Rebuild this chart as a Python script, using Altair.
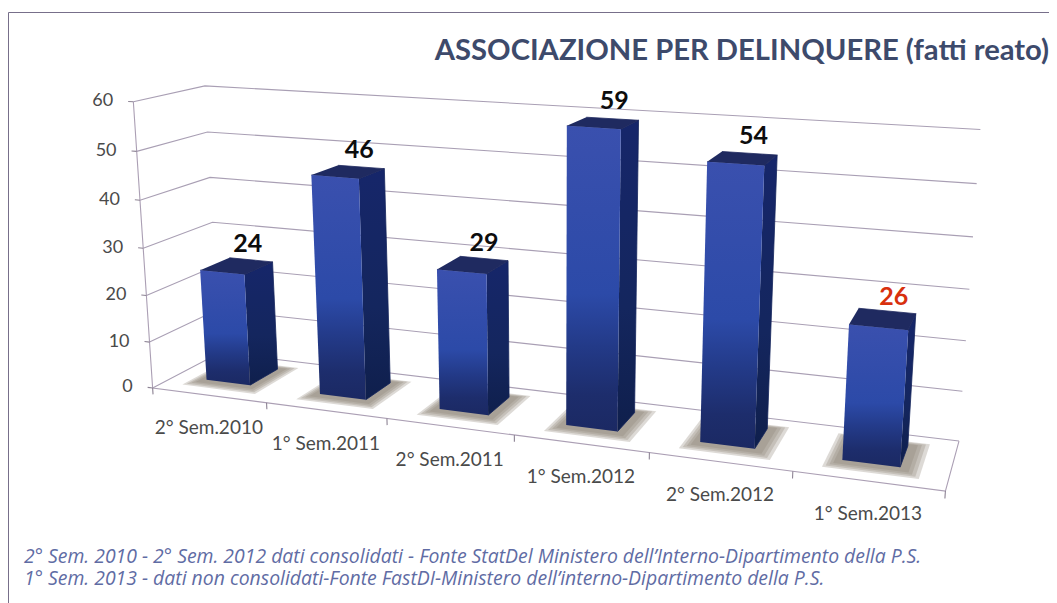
import altair as alt
import numpy as np
import pandas as pd

categories = ["2° Sem.2010", "1° Sem.2011", "2° Sem.2011", "1° Sem.2012", "2° Sem.2012", "1° Sem.2013"]
values = [24, 46, 29, 59, 54, 26]
label_colors = ["#0d0d0d", "#0d0d0d", "#0d0d0d", "#0d0d0d", "#0d0d0d", "#d8300e"]
y_ticks = [0, 10, 20, 30, 40, 50, 60]
title_text = "ASSOCIAZIONE PER DELINQUERE (fatti reato)"
footer_lines = [
    "2° Sem. 2010 - 2° Sem. 2012 dati consolidati - Fonte StatDel Ministero dell’Interno-Dipartimento della P.S.",
    "1° Sem. 2013 - dati non consolidati-Fonte FastDI-Ministero dell’interno-Dipartimento della P.S.",
]

U0, U1, D0, D1 = 0.28, 0.67, 0.33, 0.77

# Camera of the 3-D chart box: (category position, depth, value) -> page pixel
box_u = [0, 0, 0, 0, 0, 0, 0, 0, 0, 0, 0, 6, 6, 6, 6, 6, 6, 6, 6, 1, 2, 3, 4, 5]
box_d = [0, 0, 0, 0, 0, 0, 0, 1, 1, 1, 1, 1, 1, 1, 1, 1, 1, 1, 0, 0, 0, 0, 0, 0]
box_v = [0, 10, 20, 30, 40, 50, 60, 60, 50, 40, 30, 60, 50, 40, 30, 20, 10, 0, 0, 0, 0, 0, 0, 0]
box_x = [152, 149, 146, 143, 139, 136, 132, 207, 209, 212, 213, 980, 976, 973, 969, 966, 962, 957, 943, 266, 385, 512, 647, 790]
box_y = [387, 341, 294, 247, 199, 150, 101, 84, 130, 175, 220, 126, 181, 234, 287, 338, 389, 438, 490, 403, 419, 434, 453, 472]
# where the box corners of each bar fall on the page, used to refine the camera
front_top_left = [(202, 271), (312, 176), (438, 270), (567, 127), (707, 162), (849, 327)]
front_top_right = [(247, 274), (362, 179), (488, 273), (622, 129), (765, 165), (910, 330)]
front_foot_left = [(207, 380), (321, 393), (441, 409), (567, 425), (701, 442), (843, 459)]
front_foot_right = [(253, 385), (367, 399), (490, 415), (619, 431), (757, 449), (902, 467)]
back_top_right = [(269, 265), (382, 171), (507, 264), (637, 122), (777, 157), (917, 317)]
back_foot_right = [(275, 370), (388, 385), (508, 397), (635, 410), (770, 427), (908, 453)]
back_top_left = [(227, 261), (338, 168), (458, 259), (583, 118), (722, 153), (860, 312)]


def solve_camera():
    anchors = list(zip(box_u, box_d, box_v, box_x, box_y))
    for i, val in enumerate(values):
        for (px, py), (uu, dd, vv) in [
            (front_top_left[i], (U0, D0, val)),
            (front_top_right[i], (U1, D0, val)),
            (front_foot_left[i], (U0, D0, 0)),
            (front_foot_right[i], (U1, D0, 0)),
            (back_top_right[i], (U1, D1, val)),
            (back_foot_right[i], (U1, D1, 0)),
            (back_top_left[i], (U0, D1, val)),
        ]:
            anchors.append((i + uu, dd, vv, px, py))
    rows, rhs = [], []
    for u, d, v, X, Y in anchors:
        v = v / 60
        rows.append([u, d, v, 1, 0, 0, 0, 0, -X * u, -X * d, -X * v])
        rhs.append(X)
        rows.append([0, 0, 0, 0, u, d, v, 1, -Y * u, -Y * d, -Y * v])
        rhs.append(Y)
    return np.linalg.lstsq(np.array(rows, float), np.array(rhs, float), rcond=None)[0]


CAM = solve_camera()


def project(u, d, v):
    v = v / 60
    w = CAM[8] * u + CAM[9] * d + CAM[10] * v + 1
    return (
        (CAM[0] * u + CAM[1] * d + CAM[2] * v + CAM[3]) / w,
        (CAM[4] * u + CAM[5] * d + CAM[6] * v + CAM[7]) / w,
    )


def polygons(items):
    rows = []
    for key, pts in enumerate(items):
        for order, (u, d, v) in enumerate(pts):
            x, y = project(u, d, v)
            rows.append({"x": x, "y": y, "poly": key, "ord": order})
    return pd.DataFrame(rows)


x_enc = alt.X("x:Q", scale=alt.Scale(domain=[8, 1049], nice=False, zero=False), axis=None)
y_enc = alt.Y("y:Q", scale=alt.Scale(domain=[603, 8], nice=False, zero=False), axis=None)


def shape(items, **mark):
    return alt.Chart(polygons(items)).mark_line(**mark).encode(
        x=x_enc, y=y_enc, detail="poly:N", order="ord:Q"
    )


def text_layer(df, **mark):
    return alt.Chart(df).mark_text(**mark).encode(x=x_enc, y=y_enc, text="t:N")


# box lines
grid_items = [[(0, 0, v), (0, 1, v), (6, 1, v)] for v in y_ticks]
edge_items = [[(0, 0, 60), (0, 0, 0), (6, 0, 0), (6, 1, 0)]]
tick_items = [[(0, 0, v), (-0.045, 0, v)] for v in y_ticks] + [[(u, 0, 0), (u, 0, -1.4)] for u in range(7)]

grid = shape(grid_items, stroke="#a99fb4", strokeWidth=1.1)
edges = shape(edge_items, stroke="#ab9fb4", strokeWidth=1.1)
ticks = shape(tick_items, stroke="#8d8394", strokeWidth=1.1)


def shadow(grow):
    return [
        [
            (i + U0 - 0.10 * grow, D0 - 0.16 * grow, 0),
            (i + U1 + 0.13 * grow, D0 - 0.16 * grow, 0),
            (i + U1 + 0.13 * grow, D1 + 0.08 * grow, 0),
            (i + U0 - 0.10 * grow, D1 + 0.08 * grow, 0),
        ]
        for i in range(len(values))
    ]


shadow_layers = [
    shape(shadow(g), fill="#8f8378", fillOpacity=0.3, strokeWidth=0)
    for g in (1.1, 0.9, 0.7, 0.5)
]

front_items = [[(i + U0, D0, 0), (i + U1, D0, 0), (i + U1, D0, v), (i + U0, D0, v)] for i, v in enumerate(values)]
side_items = [[(i + U1, D0, 0), (i + U1, D1, 0), (i + U1, D1, v), (i + U1, D0, v)] for i, v in enumerate(values)]
top_items = [[(i + U0, D0, v), (i + U1, D0, v), (i + U1, D1, v), (i + U0, D1, v)] for i, v in enumerate(values)]

front_fill = alt.Gradient(
    gradient="linear", x1=0, x2=0, y1=0, y2=1,
    stops=[
        alt.GradientStop(color="#3a50ae", offset=0),
        alt.GradientStop(color="#2c4aa8", offset=0.55),
        alt.GradientStop(color="#233a88", offset=0.72),
        alt.GradientStop(color="#1d2d6c", offset=0.88),
        alt.GradientStop(color="#1b2963", offset=1),
    ],
)
side_fill = alt.Gradient(
    gradient="linear", x1=0, x2=0, y1=0, y2=1,
    stops=[
        alt.GradientStop(color="#16266a", offset=0),
        alt.GradientStop(color="#14265e", offset=0.6),
        alt.GradientStop(color="#0f1f4c", offset=1),
    ],
)
side = shape(side_items, fill=side_fill, stroke="#14245c", strokeWidth=0.8, strokeJoin="round")
top = shape(top_items, fill="#1f2a60", stroke="#1f2a60", strokeWidth=0.8, strokeJoin="round")
front = shape(front_items, fill=front_fill, strokeWidth=0)

# frame of the scanned page
frame_df = pd.DataFrame({"x": [1049, 8.5, 8.5], "y": [12.5, 12.5, 603], "poly": 0, "ord": [0, 1, 2]})
frame = alt.Chart(frame_df).mark_line(stroke="#776f8a", strokeWidth=1).encode(
    x=x_enc, y=y_enc, detail="poly:N", order="ord:Q"
)

# texts
ytxt = pd.DataFrame([
    {"x": project(-0.045, 0, v)[0], "y": project(-0.045, 0, v)[1], "t": str(v)} for v in y_ticks
])
y_labels = text_layer(ytxt, font="Lato", fontSize=18, color="#4a4a4a", align="right", baseline="middle", dx=-15)

xtxt = pd.DataFrame([
    {"x": project(i + 0.5, 0, 0)[0], "y": project(i + 0.5, 0, 0)[1], "t": c} for i, c in enumerate(categories)
])
x_labels = text_layer(xtxt, font="Lato", fontSize=19, color="#4a4a4a", align="center", baseline="middle", dy=33)

val_df = pd.DataFrame([
    {
        "x": project(i + (U0 + U1) / 2, (D0 + D1) / 2, v)[0],
        "y": project(i + (U0 + U1) / 2, (D0 + D1) / 2, v)[1],
        "t": str(v),
        "c": label_colors[i],
    }
    for i, v in enumerate(values)
])
val_labels = alt.Chart(val_df).mark_text(
    font="Lato", fontSize=25, fontWeight="bold", align="center", baseline="middle", dx=11, dy=-22
).encode(x=x_enc, y=y_enc, text="t:N", color=alt.Color("c:N", scale=None))

title = text_layer(
    pd.DataFrame({"x": [1049], "y": [51], "t": [title_text]}),
    font="Lato", fontSize=29.2, fontWeight="bold", color="#3d4a6b", align="right", baseline="middle",
)
footer = text_layer(
    pd.DataFrame({"x": [24], "y": [557], "t": ["\n".join(footer_lines)]}),
    font="Open Sans", fontSize=19.4, fontStyle="italic", color="#5f6ca4", align="left", baseline="middle",
    lineBreak="\n", lineHeight=21.5,
)

chart = alt.layer(
    frame, grid, edges, ticks, *shadow_layers, side, top, front,
    y_labels, x_labels, val_labels, title, footer,
).properties(
    width=1041, height=595, padding=0, autosize=alt.AutoSizeParams(type="none"), background="#ffffff"
).configure_view(stroke=None)

chart.save("out.html", embed_options={"renderer": "svg", "actions": False})
